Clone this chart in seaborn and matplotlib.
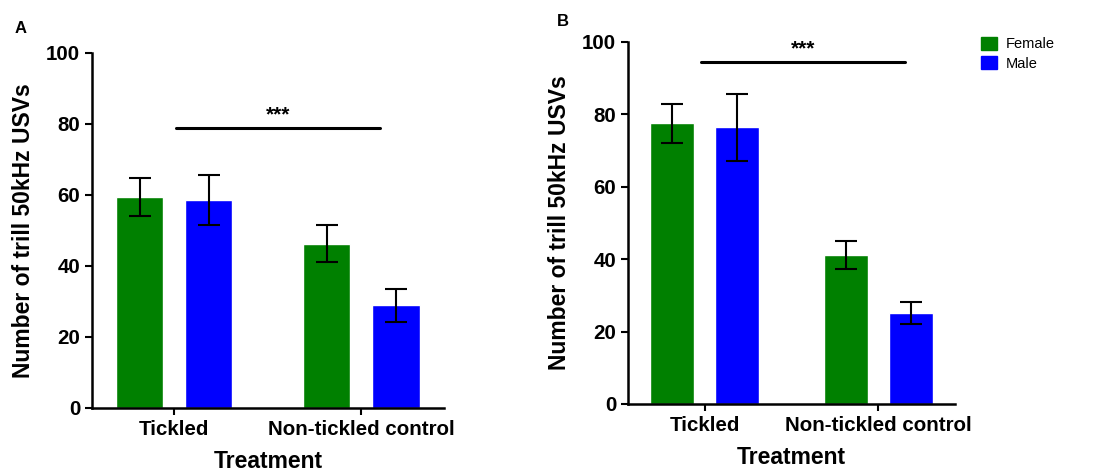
import numpy as np
import pandas as pd
import seaborn as sns
import matplotlib.pyplot as plt

# Data
treatments = ["Tickled", "Non-tickled control"]
sexes = ["Female", "Male"]

# panel A: mean and SEM, order = (Tickled F, Tickled M, Control F, Control M)
means_a = [59.4, 58.6, 46.3, 28.9]
sem_a = [5.4, 7.0, 5.3, 4.6]

# panel B
means_b = [77.5, 76.4, 41.2, 25.2]
sem_b = [5.3, 9.2, 3.9, 3.0]

palette = {"Female": "#008000", "Male": "#0000FF"}

sns.set_style("ticks")
plt.rcParams["font.family"] = ["Liberation Sans", "DejaVu Sans"]
for k in ["text.color", "axes.labelcolor", "xtick.color", "ytick.color", "axes.edgecolor"]:
    plt.rcParams[k] = "black"


def make_df(means, sems):
    rows = []
    i = 0
    for t in treatments:
        for s in sexes:
            rows.append({"Treatment": t, "Sex": s, "mean": means[i], "sem": sems[i]})
            i += 1
    return pd.DataFrame(rows)


def draw_panel(ax, df, sig_y, sig_x):
    sns.barplot(data=df, x="Treatment", y="mean", hue="Sex", order=treatments,
                hue_order=sexes, palette=palette, errorbar=None, width=0.74,
                gap=0.32, saturation=1, legend=False, ax=ax)
    # error bars at the bar centres
    for s, cont in zip(sexes, ax.containers):
        sub = df[df["Sex"] == s].set_index("Treatment").loc[treatments]
        xs = [p.get_x() + p.get_width() / 2 for p in cont.patches]
        ax.errorbar(xs, sub["mean"], yerr=sub["sem"], fmt="none", ecolor="black",
                    elinewidth=1.5, capsize=8, capthick=1.5)
    ax.plot(sig_x, [sig_y, sig_y], color="black", lw=2.2, clip_on=False)
    ax.text(np.mean(sig_x), sig_y + 0.8, "***", ha="center", va="bottom",
            fontsize=15, fontweight="bold")
    ax.set_ylim(0, 100)
    ax.set_yticks([0, 20, 40, 60, 80, 100])
    ax.set_xlim(-0.44, 1.44)
    ax.set_ylabel("Number of trill 50kHz USVs", fontsize=16.5, fontweight="bold",
                  labelpad=8)
    ax.set_xlabel("Treatment", fontsize=16.5, fontweight="bold", labelpad=8)
    ax.tick_params(axis="both", labelsize=14.8, width=1.5, length=5)
    for lab in ax.get_xticklabels() + ax.get_yticklabels():
        lab.set_fontweight("bold")
    sns.despine(ax=ax)
    for sp in ["left", "bottom"]:
        ax.spines[sp].set_linewidth(1.8)


fig = plt.figure(figsize=(11.18, 4.76), dpi=100)
ax_a = fig.add_axes([0.0823, 0.1429, 0.3146, 0.7458])
ax_b = fig.add_axes([0.5617, 0.1513, 0.2925, 0.7605])

draw_panel(ax_a, make_df(means_a, sem_a), 79, [0.01, 1.10])
draw_panel(ax_b, make_df(means_b, sem_b), 94.6, [-0.02, 1.15])

fig.text(0.013, 0.94, "A", fontsize=12, fontweight="bold", va="center")
fig.text(0.498, 0.955, "B", fontsize=12, fontweight="bold", va="center")

handles = [plt.Rectangle((0, 0), 1, 1, color=palette[s]) for s in sexes]
fig.legend(handles, sexes, loc="upper left", bbox_to_anchor=(0.872, 0.935),
           frameon=False, fontsize=10.5, handlelength=1.1, handleheight=1.0,
           handletextpad=0.6, labelspacing=0.35, borderaxespad=0)

fig.savefig("out.png", dpi=100)
